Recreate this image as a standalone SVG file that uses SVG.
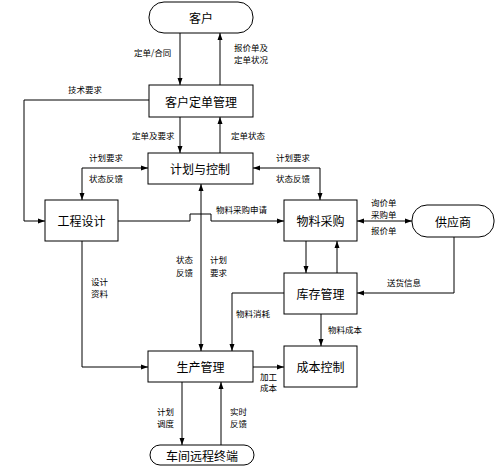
<svg xmlns="http://www.w3.org/2000/svg" width="497" height="467" viewBox="0 0 497 467">
<style>
.box{fill:#fff;stroke:#000;stroke-width:1}
.nt{font-family:"Noto Sans CJK SC","Noto Sans",sans-serif;font-size:12px;text-anchor:middle;dominant-baseline:central;fill:#000}
.lb{font-family:"Noto Sans CJK SC","Noto Sans",sans-serif;font-size:8.5px;fill:#000}
.cn{fill:none;stroke:#000;stroke-width:1}
</style>
<defs>
<marker id="ah" markerUnits="userSpaceOnUse" markerWidth="8" markerHeight="8" refX="7" refY="4" orient="auto-start-reverse"><path d="M0,1.5 L7,4 L0,6.5 Z" fill="#000"/></marker>
</defs>
<rect width="497" height="467" fill="#fff"/>
<g id="connectors">
<path class="cn" d="M180,33 V85" marker-end="url(#ah)"/>
<path class="cn" d="M220,85 V33" marker-end="url(#ah)"/>
<path class="cn" d="M180,117 V153" marker-end="url(#ah)"/>
<path class="cn" d="M220,153 V117" marker-end="url(#ah)"/>
<path class="cn" d="M149,100 H24 V221 H45" marker-end="url(#ah)"/>
<path class="cn" d="M148,168 H82 V200" marker-start="url(#ah)" marker-end="url(#ah)"/>
<path class="cn" d="M253,168 H320 V200" marker-start="url(#ah)" marker-end="url(#ah)"/>
<path class="cn" d="M118,221 H190 V214 H211 V221 H284" marker-end="url(#ah)"/>
<path class="cn" d="M201,184 V351" marker-start="url(#ah)" marker-end="url(#ah)"/>
<path class="cn" d="M357,221 H412" marker-start="url(#ah)" marker-end="url(#ah)"/>
<path class="cn" d="M454,237 V293 H357" marker-end="url(#ah)"/>
<path class="cn" d="M306,241 V273" marker-end="url(#ah)"/>
<path class="cn" d="M337,273 V241" marker-end="url(#ah)"/>
<path class="cn" d="M284,293 H232 V351" marker-end="url(#ah)"/>
<path class="cn" d="M321,314 V346" marker-end="url(#ah)"/>
<path class="cn" d="M253,367 H284" marker-end="url(#ah)"/>
<path class="cn" d="M82,241 V367 H148" marker-end="url(#ah)"/>
<path class="cn" d="M182,382 V445" marker-end="url(#ah)"/>
<path class="cn" d="M221,445 V382" marker-end="url(#ah)"/>
</g>
<g id="labels">
<text class="lb" x="134" y="56">定单/合同</text>
<text class="lb" x="234" y="51">报价单及</text>
<text class="lb" x="234" y="63">定单状况</text>
<text class="lb" x="68" y="93">技术要求</text>
<text class="lb" x="132" y="139">定单及要求</text>
<text class="lb" x="231" y="139">定单状态</text>
<text class="lb" x="89" y="161">计划要求</text>
<text class="lb" x="89" y="182">状态反馈</text>
<text class="lb" x="276" y="161">计划要求</text>
<text class="lb" x="276" y="182">状态反馈</text>
<text class="lb" x="216" y="213">物料采购申请</text>
<text class="lb" x="371" y="206">询价单</text>
<text class="lb" x="371" y="218">采购单</text>
<text class="lb" x="371" y="234">报价单</text>
<text class="lb" x="176" y="263">状态</text>
<text class="lb" x="176" y="276">反馈</text>
<text class="lb" x="210" y="263">计划</text>
<text class="lb" x="210" y="276">要求</text>
<text class="lb" x="91" y="285">设计</text>
<text class="lb" x="91" y="297">资料</text>
<text class="lb" x="387" y="286">送货信息</text>
<text class="lb" x="236" y="317">物料消耗</text>
<text class="lb" x="328" y="333">物料成本</text>
<text class="lb" x="260" y="380">加工</text>
<text class="lb" x="260" y="391">成本</text>
<text class="lb" x="157" y="415">计划</text>
<text class="lb" x="157" y="427">调度</text>
<text class="lb" x="230" y="415">实时</text>
<text class="lb" x="230" y="427">反馈</text>
</g>
<g id="n-kehu"><rect class="box" x="149" y="2" width="104" height="31" rx="15" ry="15"/><text class="nt" x="201" y="17.5">客户</text></g>
<g id="n-dingdan"><rect class="box" x="149" y="85" width="104" height="32"/><text class="nt" x="201" y="101">客户定单管理</text></g>
<g id="n-jihua"><rect class="box" x="148" y="153" width="105" height="31"/><text class="nt" x="200" y="168.5">计划与控制</text></g>
<g id="n-gongcheng"><rect class="box" x="45" y="200" width="73" height="41"/><text class="nt" x="81.5" y="220.5">工程设计</text></g>
<g id="n-caigou"><rect class="box" x="284" y="200" width="73" height="41"/><text class="nt" x="320.5" y="220.5">物料采购</text></g>
<g id="n-gongying"><rect class="box" x="412" y="205" width="82" height="32" rx="15" ry="15"/><text class="nt" x="453" y="221">供应商</text></g>
<g id="n-kucun"><rect class="box" x="284" y="273" width="73" height="41"/><text class="nt" x="320.5" y="293.5">库存管理</text></g>
<g id="n-chengben"><rect class="box" x="284" y="346" width="73" height="41"/><text class="nt" x="320.5" y="366.5">成本控制</text></g>
<g id="n-shengchan"><rect class="box" x="148" y="351" width="105" height="31"/><text class="nt" x="200.5" y="366.5">生产管理</text></g>
<g id="n-chejian"><rect class="box" x="150" y="445" width="104" height="20" rx="10" ry="10"/><text class="nt" x="202" y="455">车间远程终端</text></g>
</svg>
